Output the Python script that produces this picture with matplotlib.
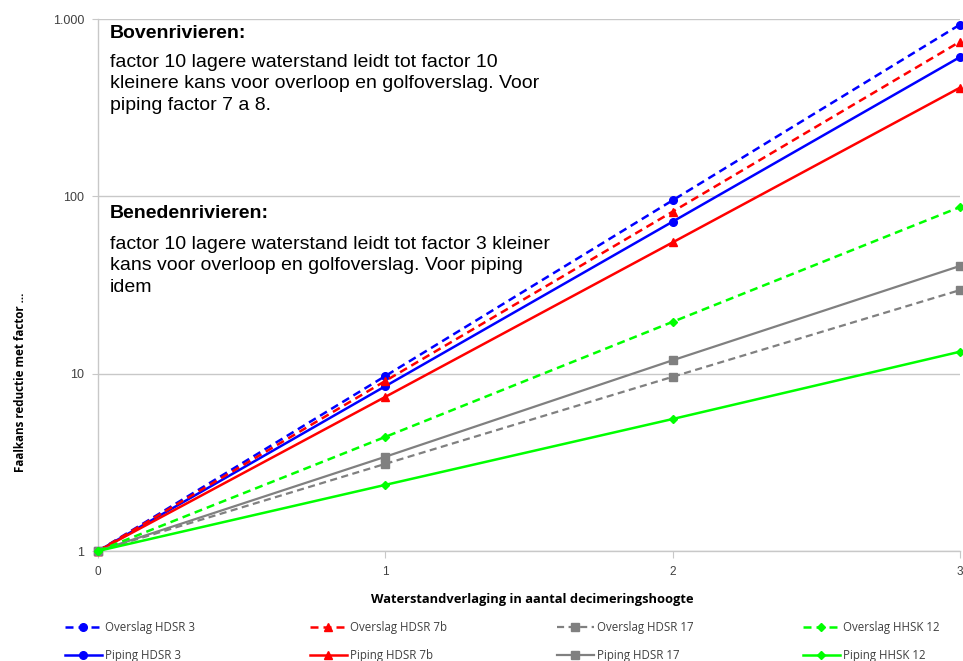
import numpy as np
import matplotlib.pyplot as plt
from matplotlib.ticker import FixedLocator, FixedFormatter, NullLocator

# =====================================================
# Data
# =====================================================

x = [0, 1, 2, 3]

overslag_hdsr3 = [1, 9.7, 95, 930]
overslag_hdsr7b = [1, 9.1, 82, 745]
overslag_hdsr17 = [1, 3.1, 9.6, 29.6]
overslag_hhsk12 = [1, 4.4, 19.6, 87]

piping_hdsr3 = [1, 8.5, 72, 610]
piping_hdsr7b = [1, 7.4, 55, 410]
piping_hdsr17 = [1, 3.4, 11.9, 40.5]
piping_hhsk12 = [1, 2.36, 5.55, 13.3]

y_ticks = [1, 10, 100, 1000]
y_ticklabels = ["1", "10", "100", "1.000"]

# =====================================================
# Figuur
# =====================================================

plt.rcParams['font.family'] = ['Liberation Sans', 'DejaVu Sans']

W, H = 963, 661
fig = plt.figure(figsize=(W / 100, H / 100), dpi=100)
ax = fig.add_axes([98 / W, 1 - 551 / H, 862 / W, 532 / H])

blue = "#0000ff"
red = "#ff0000"
grey = "#808080"
green = "#00ff00"

# (waarden, label, kleur, lijnstijl, marker, lijndikte)
groups = [
    [(overslag_hdsr3, "Overslag HDSR 3", blue, "--", "o", 1.8),
     (piping_hdsr3, "Piping HDSR 3", blue, "-", "o", 1.8)],
    [(overslag_hdsr7b, "Overslag HDSR 7b", red, "--", "^", 1.8),
     (piping_hdsr7b, "Piping HDSR 7b", red, "-", "^", 1.8)],
    [(overslag_hdsr17, "Overslag HDSR 17", grey, "--", "s", 1.6),
     (piping_hdsr17, "Piping HDSR 17", grey, "-", "s", 1.6)],
    [(overslag_hhsk12, "Overslag HHSK 12", green, "--", "D", 1.8),
     (piping_hhsk12, "Piping HHSK 12", green, "-", "D", 1.8)],
]

handles = []
for group in groups:
    hs = []
    for vals, label, color, ls, marker, lw in group:
        ms = 4.5 if marker == "D" else 5.5
        line, = ax.plot(x, vals, color=color, linestyle=ls, marker=marker,
                        markersize=ms, linewidth=lw, label=label,
                        clip_on=False, zorder=3)
        if ls == "--":
            line.set_dashes((3.2, 2.0))
        hs.append(line)
    handles.append(hs)

ax.set_yscale("log")
ax.set_xlim(0, 3)
ax.set_ylim(1, 1000)

ax.yaxis.set_major_locator(FixedLocator(y_ticks))
ax.yaxis.set_major_formatter(FixedFormatter(y_ticklabels))
ax.yaxis.set_minor_locator(NullLocator())
ax.set_xticks(x)

ax.grid(True, axis="y", color="#c8c8c8", linewidth=1)
ax.set_axisbelow(True)

for side in ["top", "right"]:
    ax.spines[side].set_visible(False)
for side in ["left", "bottom"]:
    ax.spines[side].set_color("#c8c8c8")
    ax.spines[side].set_linewidth(1)

ax.tick_params(axis="y", length=4, color="#c8c8c8", pad=6, labelsize=9,
               labelcolor="#404040", direction="out")
ax.tick_params(axis="x", length=5, color="#c8c8c8", pad=6,
               labelsize=8.5, labelcolor="#404040", direction="out")

fig.text(532 / W, 1 - 600 / H, "Waterstandverlaging in aantal decimeringshoogte",
         ha="center", va="center", fontsize=9.3, fontweight="bold",
         family="Open Sans")
fig.text(20 / W, 1 - 382 / H, "Faalkans reductie met factor ...",
         ha="center", va="center", rotation=90, fontsize=8.4,
         fontweight="bold", family="Open Sans")

# =====================================================
# Tekst
# =====================================================

def ax_y(py):
    return (551 - py) / 532

tx = 12 / 862

ax.text(tx, ax_y(34), "Bovenrivieren:", transform=ax.transAxes,
        fontsize=14, fontweight="bold", va="center")
ax.text(tx, ax_y(84),
        "factor 10 lagere waterstand leidt tot factor 10\n"
        "kleinere kans voor overloop en golfoverslag. Voor\n"
        "piping factor 7 a 8.",
        transform=ax.transAxes, fontsize=14, va="center", linespacing=1.35)

ax.text(tx, ax_y(214), "Benedenrivieren:", transform=ax.transAxes,
        fontsize=14, fontweight="bold", va="center")
ax.text(tx, ax_y(266),
        "factor 10 lagere waterstand leidt tot factor 3 kleiner\n"
        "kans voor overloop en golfoverslag. Voor piping\n"
        "idem",
        transform=ax.transAxes, fontsize=14, va="center", linespacing=1.35)

# =====================================================
# Legenda (een kolom per waterschap)
# =====================================================

col_x = [65, 310, 557, 803]
for hs, px in zip(handles, col_x):
    leg = fig.legend(handles=hs, loc="upper left",
                     bbox_to_anchor=(px / W, 1 - 621 / H),
                     frameon=False, handlelength=3.2, handletextpad=0.25,
                     labelspacing=1.3, borderpad=0, borderaxespad=0,
                     prop={"family": "Open Sans", "size": 8.3})
    for t in leg.get_texts():
        t.set_color("#404040")

fig.savefig("out.png", dpi=100)
